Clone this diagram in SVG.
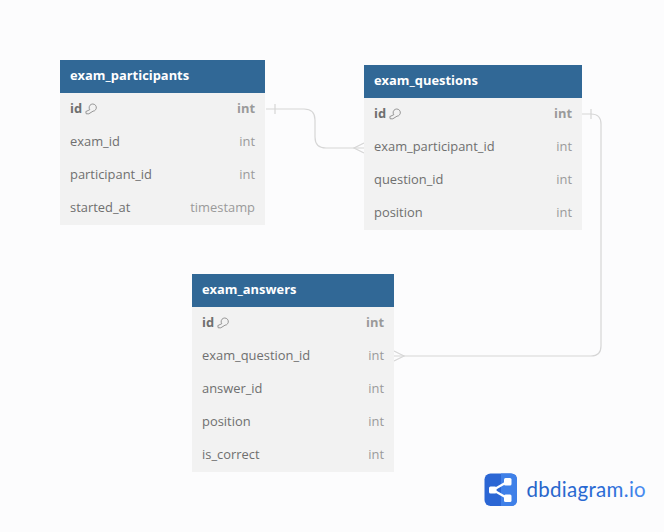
<svg xmlns="http://www.w3.org/2000/svg" width="664" height="532" viewBox="0 0 664 532">
<style>
text{font-family:"Open Sans","Noto Sans",sans-serif;font-size:12.9px}
.body{fill:#f2f2f2}
.head{fill:#316896}
.title{fill:#fff;font-weight:700}
.name{fill:#6f6f6f}
.type{fill:#9a9a9a;text-anchor:end}
.b{font-weight:700}
.conn{fill:none;stroke:#d6d6d6;stroke-width:1.2}
.key{fill:none;stroke:#7d7d7d;stroke-width:.8}
</style>
<defs>
<g id="key"><path d="M4.800 6.700A3.600 3.600 0 1 1 8 8.200L3.800 10.800H1.200L.8 8.600Z" class="key"/></g>
<linearGradient id="logoText" x1="0" x2="1" y1="0" y2="0"><stop offset="0" stop-color="#2763c8"/><stop offset=".7" stop-color="#2a6bd6"/><stop offset="1" stop-color="#4a8ef2"/></linearGradient>
</defs>
<rect width="664" height="532" fill="#fcfcfd"/>
<g id="connectors">
<path class="conn" d="M266 109H304Q315 109 315 120V137Q315 148 326 148H364"/>
<path class="conn" d="M275 104V114M364 143L354 148L364 153"/>
<path class="conn" d="M582 114H591Q601 114 601 124V346Q601 356 591 356H394"/>
<path class="conn" d="M591 109V119M394 351L404 356L394 361"/>
</g>
<g id="exam_participants">
<rect class="body" x="60" y="60" width="205" height="165"/>
<rect class="head" x="60" y="60" width="205" height="33"/>
<text class="title" x="70" y="80">exam_participants</text>
<text class="name b" x="70" y="113">id</text><use href="#key" x="85" y="103"/><text class="type b" x="255" y="113">int</text>
<text class="name" x="70" y="146">exam_id</text><text class="type" x="255" y="146">int</text>
<text class="name" x="70" y="179">participant_id</text><text class="type" x="255" y="179">int</text>
<text class="name" x="70" y="212">started_at</text><text class="type" x="255" y="212">timestamp</text>
</g>
<g id="exam_questions">
<rect class="body" x="364" y="65" width="218" height="165"/>
<rect class="head" x="364" y="65" width="218" height="33"/>
<text class="title" x="374" y="85">exam_questions</text>
<text class="name b" x="374" y="118">id</text><use href="#key" x="389" y="108"/><text class="type b" x="572" y="118">int</text>
<text class="name" x="374" y="151">exam_participant_id</text><text class="type" x="572" y="151">int</text>
<text class="name" x="374" y="184">question_id</text><text class="type" x="572" y="184">int</text>
<text class="name" x="374" y="217">position</text><text class="type" x="572" y="217">int</text>
</g>
<g id="exam_answers">
<rect class="body" x="192" y="274" width="202" height="198"/>
<rect class="head" x="192" y="274" width="202" height="33"/>
<text class="title" x="202" y="294">exam_answers</text>
<text class="name b" x="202" y="327">id</text><use href="#key" x="217" y="317"/><text class="type b" x="384" y="327">int</text>
<text class="name" x="202" y="360">exam_question_id</text><text class="type" x="384" y="360">int</text>
<text class="name" x="202" y="393">answer_id</text><text class="type" x="384" y="393">int</text>
<text class="name" x="202" y="426">position</text><text class="type" x="384" y="426">int</text>
<text class="name" x="202" y="459">is_correct</text><text class="type" x="384" y="459">int</text>
</g>
<g id="logo">
<rect x="484.500" y="473.500" width="32.500" height="32.500" rx="6" fill="#2b66d4"/>
<path d="M501 473.500H511Q517 473.500 517 479.500V500Q517 506 511 506H501Z" fill="#3f80e8"/>
<path d="M493 490L507 482M493 490L507 498" stroke="#fff" stroke-width="2.200" fill="none"/>
<rect x="489" y="486.500" width="7.500" height="7" rx="1.500" fill="#fff"/>
<rect x="504" y="478" width="7.500" height="7.500" rx="1.500" fill="#fff"/>
<rect x="504" y="494.500" width="7.500" height="7.500" rx="1.500" fill="#fff"/>
<text x="526.500" y="497" style="font-family:Lato,'Noto Sans',sans-serif;font-size:20.500px;letter-spacing:.3px" fill="url(#logoText)">dbdiagram.io</text>
</g>
</svg>
